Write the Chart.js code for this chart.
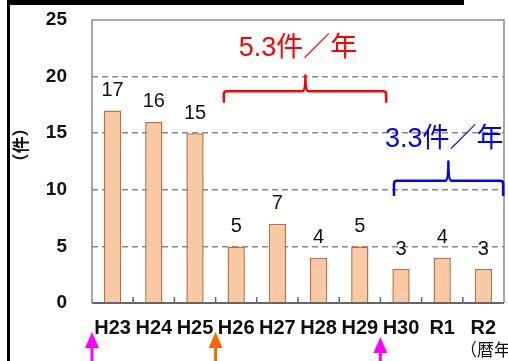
<!DOCTYPE html>
<html>
<head>
<meta charset="utf-8">
<script src="https://cdn.jsdelivr.net/npm/chart.js@4"></script>
<style>
  html, body { margin: 0; padding: 0; background: #fff; }
  canvas { display: block; }
</style>
</head>
<body>
<canvas id="chart" width="508" height="361"></canvas>
<script>
// データ
const years = ['H23', 'H24', 'H25', 'H26', 'H27', 'H28', 'H29', 'H30', 'R1', 'R2'];
const counts = [17, 16, 15, 5, 7, 4, 5, 3, 4, 3];
const yTicks = [0, 5, 10, 15, 20, 25];

const LATIN = '"Liberation Sans", Arial, "Noto Sans CJK JP", sans-serif';

// 注記・枠などの描画
const decorPlugin = {
    id: 'decor',
    afterDraw(chart) {
        const ctx = chart.ctx;
        const area = chart.chartArea;
        const x = chart.scales.x;
        const y = chart.scales.y;
        const px = v => x.getPixelForValue(v);
        const py = v => y.getPixelForValue(v);

        ctx.save();

        // プロット枠
        ctx.strokeStyle = '#8a8a8a';
        ctx.lineWidth = 1.5;
        ctx.beginPath();
        ctx.moveTo(area.left, area.bottom);
        ctx.lineTo(area.left, area.top);
        ctx.lineTo(area.right, area.top);
        ctx.lineTo(area.right, area.bottom);
        ctx.stroke();

        // 横軸と目盛り
        ctx.strokeStyle = '#666';
        ctx.lineWidth = 2;
        ctx.beginPath();
        ctx.moveTo(area.left, area.bottom);
        ctx.lineTo(area.right, area.bottom);
        ctx.stroke();
        ctx.lineWidth = 1.5;
        ctx.beginPath();
        for (let i = 0; i < years.length - 1; i++) {
            const bx = px(i + 0.5);
            ctx.moveTo(bx, area.bottom);
            ctx.lineTo(bx, area.bottom - 6);
        }
        ctx.stroke();

        // 値ラベル
        ctx.fillStyle = '#111';
        ctx.font = '20px ' + LATIN;
        ctx.textAlign = 'center';
        ctx.textBaseline = 'bottom';
        counts.forEach((c, i) => {
            ctx.fillText(String(c), px(i), py(c) - 10);
        });

        // 平均の注記
        function bracket(x1, x2, xm, yLine, yEnd, yPeak, color) {
            ctx.strokeStyle = color;
            ctx.lineWidth = 2.5;
            ctx.lineJoin = 'round';
            ctx.beginPath();
            ctx.moveTo(x1, yEnd);
            ctx.lineTo(x1, yLine + 3);
            ctx.quadraticCurveTo(x1, yLine, x1 + 3, yLine);
            ctx.lineTo(xm - 3, yLine);
            ctx.quadraticCurveTo(xm, yLine, xm, yPeak);
            ctx.quadraticCurveTo(xm, yLine, xm + 3, yLine);
            ctx.lineTo(x2 - 3, yLine);
            ctx.quadraticCurveTo(x2, yLine, x2, yLine + 3);
            ctx.lineTo(x2, yEnd);
            ctx.stroke();
        }
        ctx.font = '27px ' + LATIN;
        ctx.textBaseline = 'middle';
        ctx.fillStyle = '#ff0000';
        ctx.fillText('5.3件／年', px(4.5), py(22.5));
        bracket(px(2.7), px(6.64), px(4.68), py(18.7), py(17.7), py(20.1), '#ff0000');

        ctx.fillStyle = '#0000ff';
        ctx.fillText('3.3件／年', px(8.05), py(14.4));
        bracket(px(6.83), px(9.48), px(8.15), py(10.8), py(9.45), py(12.5), '#0000ff');

        // 矢印
        function arrow(ax, tip, color) {
            ctx.fillStyle = color;
            ctx.strokeStyle = color;
            ctx.beginPath();
            ctx.moveTo(ax, tip);
            ctx.lineTo(ax - 7, tip + 16);
            ctx.lineTo(ax + 7, tip + 16);
            ctx.closePath();
            ctx.fill();
            ctx.lineWidth = 3;
            ctx.beginPath();
            ctx.moveTo(ax, tip + 14);
            ctx.lineTo(ax, chart.height);
            ctx.stroke();
        }
        arrow(px(-0.5), 332, '#ff00ff');
        arrow(px(2.5), 332, '#ff6600');
        arrow(px(6.5), 337, '#ff00ff');

        // 軸タイトル
        ctx.fillStyle = '#111';
        ctx.font = '17px ' + LATIN;
        ctx.textAlign = 'left';
        ctx.textBaseline = 'middle';
        ctx.fillText('（暦年', 460, 351);
        ctx.font = 'bold 17px ' + LATIN;
        ctx.textAlign = 'center';
        ctx.save();
        ctx.translate(22, 145);
        ctx.rotate(-Math.PI / 2);
        ctx.fillText('（件）', 0, 0);
        ctx.restore();

        // 外枠（黒）
        ctx.fillStyle = '#000';
        ctx.fillRect(8, 0, 456, 5);
        ctx.fillRect(7, 0, 3, chart.height);

        ctx.restore();
    }
};

const chart = new Chart(document.getElementById('chart'), {
    type: 'bar',
    data: {
        labels: years,
        datasets: [{
            data: counts,
            backgroundColor: '#f9c9a4',
            borderColor: '#c07040',
            borderWidth: 1.5,
            categoryPercentage: 1,
            barPercentage: 0.42
        }]
    },
    options: {
        responsive: false,
        animation: false,
        layout: { padding: { left: 0, top: 20, right: 4, bottom: 0 } },
        plugins: {
            legend: { display: false },
            tooltip: { enabled: false }
        },
        scales: {
            x: {
                grid: { display: false, drawTicks: false },
                border: { display: false },
                ticks: {
                    color: '#111',
                    padding: 13,
                    maxRotation: 0,
                    autoSkip: false,
                    font: { family: LATIN, size: 20, weight: 'bold' }
                },
                afterFit(scale) {
                    scale.height = 58;
                    scale.paddingLeft = 0;
                    scale.paddingRight = 0;
                }
            },
            y: {
                min: 0,
                max: 25,
                afterBuildTicks(scale) {
                    scale.ticks = yTicks.map(v => ({ value: v }));
                },
                grid: {
                    drawTicks: false,
                    lineWidth: 1.5,
                    color: c => (c.tick.value === 0 || c.tick.value === 25) ? 'rgba(0,0,0,0)' : '#8a8a8a'
                },
                border: { display: false, dash: [6, 4] },
                ticks: {
                    color: '#111',
                    padding: 25,
                    font: { family: LATIN, size: 19, weight: 'bold' }
                },
                afterFit(scale) {
                    scale.width = 92;
                    scale.paddingTop = 0;
                    scale.paddingBottom = 0;
                }
            }
        }
    },
    plugins: [decorPlugin]
});
</script>
</body>
</html>
